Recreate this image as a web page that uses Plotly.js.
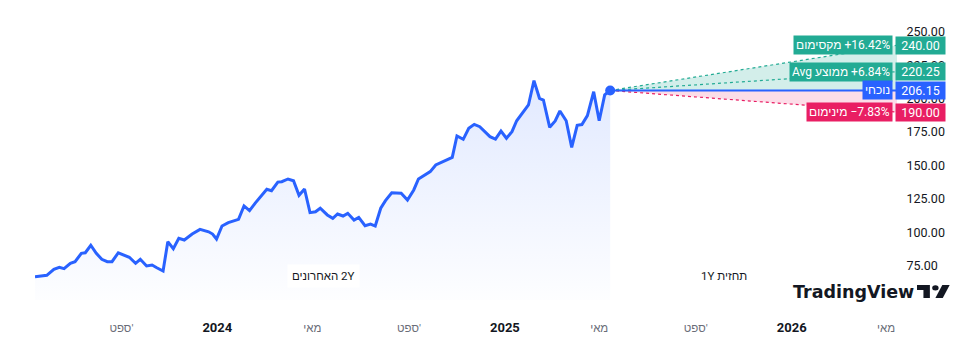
<!DOCTYPE html>
<html><head><meta charset="utf-8">
<script src="https://cdn.plot.ly/plotly-3.0.1.min.js"></script>
<style>html,body{margin:0;padding:0;background:#fff;}#chart{width:972px;height:353px;}</style>
</head><body><div id="chart"></div>
<script>
// ---- data ----
const dates = ['2023-05-14','2023-05-29','2023-06-07','2023-06-14','2023-06-20','2023-06-28','2023-07-04','2023-07-12','2023-07-17','2023-07-24',
'2023-07-31','2023-08-07','2023-08-14','2023-08-20','2023-08-28','2023-09-04','2023-09-11','2023-09-19','2023-09-25','2023-10-03',
'2023-10-10','2023-10-16','2023-10-24','2023-10-30','2023-11-06','2023-11-13','2023-11-20','2023-11-30','2023-12-10','2023-12-21',
'2023-12-26','2023-12-31','2024-01-07','2024-01-15','2024-01-22','2024-01-28','2024-02-04','2024-02-11','2024-02-18','2024-02-27',
'2024-03-04','2024-03-10','2024-03-18','2024-03-23','2024-03-31','2024-04-07','2024-04-14','2024-04-21','2024-04-28','2024-05-05',
'2024-05-11','2024-05-20','2024-05-27','2024-06-02','2024-06-09','2024-06-15','2024-06-23','2024-06-29','2024-07-07','2024-07-14',
'2024-07-20','2024-07-27','2024-08-02','2024-08-10','2024-08-22','2024-08-30','2024-09-07','2024-09-13','2024-09-20','2024-09-28',
'2024-10-05','2024-10-13','2024-10-19','2024-10-26','2024-11-01','2024-11-09','2024-11-16','2024-11-23','2024-11-30','2024-12-07',
'2024-12-13','2024-12-20','2024-12-27','2025-01-03','2025-01-10','2025-01-16','2025-01-24','2025-01-31','2025-02-07','2025-02-14',
'2025-02-19','2025-02-27','2025-03-06','2025-03-12','2025-03-20','2025-03-27','2025-04-03','2025-04-09','2025-04-16','2025-04-24',
'2025-05-01','2025-05-08','2025-05-15'];
const prices = [66.8,67.8,72.3,73.8,72.8,76.8,78.0,84.3,84.7,90.3,
84.3,79.8,78.0,78.0,84.7,83.0,81.3,76.8,79.8,74.8,
75.5,73.5,71.0,93.0,87.7,95.5,94.2,98.7,102.2,100.4,
98.7,95.0,104.7,107.2,108.7,109.7,119.7,116.2,121.7,127.9,
132.2,131.1,137.6,137.9,139.9,138.6,127.7,132.4,114.7,115.4,
118.0,113.0,110.5,113.7,112.2,114.2,109.2,111.2,104.9,106.2,
104.7,118.0,123.7,129.6,129.2,124.2,131.7,139.9,142.4,145.4,
150.4,152.8,154.6,156.1,172.1,169.6,177.8,180.8,179.0,175.3,
171.6,169.8,175.8,170.4,175.3,183.5,189.5,195.3,213.5,200.3,
199.0,178.6,183.3,190.8,183.5,163.6,180.1,180.6,187.3,205.2,
183.5,202.8,206.15];
const forecastDates = ['2025-05-15','2026-05-15'];
const currentPrice = 206.15;
const forecastMax = 240.00;
const forecastAvg = 220.25;
const forecastMin = 190.00;
const labelMax = 'מקסימום';
const labelAvg = 'Avg ממוצע';
const labelMin = 'מינימום';
const labelCur = 'נוכחי';
const xTickVals = ['2023-09-01','2024-01-01','2024-05-01','2024-09-01','2025-01-01','2025-05-01','2025-09-01','2026-01-01','2026-05-01'];
const xTickLabels = ["ספט'", '2024', 'מאי', "ספט'", '2025', 'מאי', "ספט'", '2026', 'מאי'];
const xTickIsYear = [false,true,false,false,true,false,false,true,false];
const yTickVals = [75,100,125,150,175,200,225,250];
const pastLabel = ['האחרונים', '2Y'];
const forecastLabel = '1Y תחזית';

// ---- layout helpers (pixel -> paper) ----
const L = 35, W = 862, T = 20, H = 280;
const px = x => (x - L) / W;
const py = y => (T + H - y) / H;
const LRM = '\u200E';

const TEAL = '#22ab94', RED = '#e91e63', BLUE = '#2962ff';
const pct = v => { const p = (v / currentPrice - 1) * 100; return (p >= 0 ? '+' : '−') + Math.abs(p).toFixed(2) + '%'; };

const base = {x: forecastDates, y: [currentPrice, currentPrice], mode: 'lines', line: {width: 0, color: 'rgba(0,0,0,0)'}, hoverinfo: 'skip', showlegend: false};
const traces = [
  {x: dates, y: prices, mode: 'lines', line: {color: BLUE, width: 3}, fill: 'tozeroy',
   fillgradient: {type: 'vertical', start: 50, stop: 215, colorscale: [[0, 'rgba(41,98,255,0.01)'], [1, 'rgba(41,98,255,0.14)']]},
   hoverinfo: 'skip', showlegend: false},
  Object.assign({}, base),
  {x: forecastDates, y: [currentPrice, forecastMax], mode: 'lines', line: {color: TEAL, width: 1.2, dash: 'dot'}, fill: 'tonexty', fillcolor: 'rgba(34,171,148,0.2)', hoverinfo: 'skip', showlegend: false},
  Object.assign({}, base),
  {x: forecastDates, y: [currentPrice, forecastMin], mode: 'lines', line: {color: RED, width: 1.2, dash: 'dot'}, fill: 'tonexty', fillcolor: 'rgba(233,30,99,0.15)', hoverinfo: 'skip', showlegend: false},
  {x: forecastDates, y: [currentPrice, forecastAvg], mode: 'lines', line: {color: TEAL, width: 1.2, dash: 'dot'}, hoverinfo: 'skip', showlegend: false},
  {x: forecastDates, y: [currentPrice, currentPrice], mode: 'lines', line: {color: BLUE, width: 2}, hoverinfo: 'skip', showlegend: false},
  {x: [dates[dates.length - 1]], y: [prices[prices.length - 1]], mode: 'markers', marker: {color: BLUE, size: 10}, hoverinfo: 'skip', showlegend: false}
];

const FONT = 'Roboto, "Liberation Sans", Arial, sans-serif';
const annotations = [];
function valueBox(v, color) {
  annotations.push({xref: 'paper', x: px(895), xanchor: 'left', yref: 'y', y: v, yanchor: 'middle', text: v.toFixed(2), showarrow: false,
    bgcolor: color, font: {color: '#fff', size: 12.5, family: FONT}, width: 46, height: 14, borderpad: 1.5});
}
function nameBox(v, text, color) {
  annotations.push({xref: 'paper', x: px(893), xanchor: 'right', yref: 'y', y: v, yanchor: 'middle', text: text, showarrow: false,
    bgcolor: color, font: {color: '#fff', size: 12, family: FONT}, height: 14, borderpad: 2});
}
valueBox(forecastMax, TEAL); nameBox(forecastMax, LRM + labelMax + ' ' + LRM + pct(forecastMax), TEAL);
valueBox(forecastAvg, TEAL); nameBox(forecastAvg, LRM + labelAvg + ' ' + LRM + pct(forecastAvg), TEAL);
valueBox(currentPrice, BLUE); nameBox(currentPrice, labelCur, BLUE);
valueBox(forecastMin, RED); nameBox(forecastMin, LRM + labelMin + ' ' + LRM + pct(forecastMin), RED);

annotations.push({xref: 'paper', yref: 'paper', x: px(323), y: py(288), text: LRM + pastLabel[0] + ' ' + LRM + pastLabel[1], showarrow: false, bgcolor: '#fff',
  font: {size: 11.5, color: '#131722', family: FONT}, borderpad: 4});
annotations.push({xref: 'paper', yref: 'paper', x: px(752), y: py(288), text: LRM + forecastLabel, showarrow: false, bgcolor: '#fff',
  font: {size: 11.5, color: '#131722', family: FONT}, borderpad: 4});
annotations.push({xref: 'paper', yref: 'paper', x: px(791), xanchor: 'left', y: py(292), yanchor: 'middle', text: '<b>TradingView</b>', showarrow: false,
  font: {size: 17.5, color: '#131722', family: '"DejaVu Sans", sans-serif'}});

// TradingView icon (pixel outline -> paper)
function pathFrom(pts) { return 'M' + pts.map(p => px(p[0]) + ',' + py(p[1])).join(' L') + ' Z'; }
const ox = 917, oy = 285, sx = 0.92, sy = 0.72;
const tp = (x, y) => [ox + x * sx, oy + (y - 4) * sy];
const shapes = [
  {type: 'path', xref: 'paper', yref: 'paper', path: pathFrom([tp(0,4), tp(14,4), tp(14,22), tp(7,22), tp(7,11), tp(0,11)]), fillcolor: '#131722', line: {width: 0}},
  {type: 'path', xref: 'paper', yref: 'paper', path: pathFrom([tp(27.5,4), tp(35.5,4), tp(28,22), tp(20,22)]), fillcolor: '#131722', line: {width: 0}},
  {type: 'circle', xref: 'paper', yref: 'paper', x0: px(tp(16.5,0)[0]), x1: px(tp(23.5,0)[0]), y0: py(tp(0,4.5)[1]), y1: py(tp(0,11.5)[1]), fillcolor: '#131722', line: {width: 0}}
];

const tickText = xTickLabels.map((t, i) => xTickIsYear[i] ? '<span style="color:#131722;font-size:13px"><b>' + t + '</b></span>' : t);

const layout = {
  width: 972, height: 353,
  margin: {l: L, r: 972 - L - W, t: T, b: 353 - T - H},
  paper_bgcolor: '#fff', plot_bgcolor: '#fff',
  showlegend: false,
  font: {family: FONT},
  xaxis: {type: 'date', range: ['2023-05-14', '2026-05-15'], showgrid: false, zeroline: false, showline: false,
    tickmode: 'array', tickvals: xTickVals, ticktext: tickText, ticks: 'outside', ticklen: 17, tickcolor: 'rgba(0,0,0,0)',
    tickfont: {size: 11.5, color: '#6a6d78', family: FONT}},
  yaxis: {side: 'right', range: [49.33, 258.9], showgrid: false, zeroline: false, showline: false,
    tickmode: 'array', tickvals: yTickVals, tickformat: '.2f', ticks: 'outside', ticklen: 6, tickcolor: 'rgba(0,0,0,0)',
    tickfont: {size: 12.5, color: '#131722', family: FONT}},
  annotations: annotations,
  shapes: shapes
};

Plotly.newPlot('chart', traces, layout, {staticPlot: true, displayModeBar: false});
</script>
</body></html>
